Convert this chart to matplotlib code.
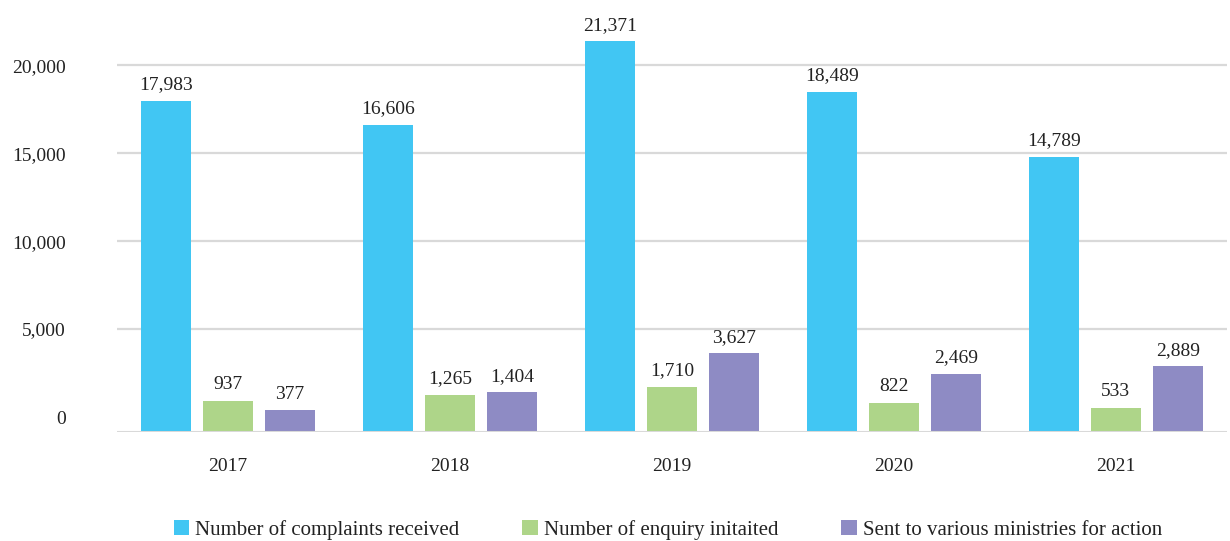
import matplotlib.pyplot as plt
import numpy as np

years = ["2017", "2018", "2019", "2020", "2021"]
complaints = [17983, 16606, 21371, 18489, 14789]
enquiry = [937, 1265, 1710, 822, 533]
ministries = [377, 1404, 3627, 2469, 2889]

series = [
    ("Number of complaints received", complaints, "#41c6f3"),
    ("Number of enquiry initaited", enquiry, "#aed589"),
    ("Sent to various ministries for action", ministries, "#8e8bc4"),
]

plt.rcParams["font.family"] = ["Liberation Serif", "DejaVu Serif"]
txt_col = "#222222"

fig = plt.figure(figsize=(12.3, 5.41), dpi=100)
ax = fig.add_axes([0.0951, 0.2015, 0.9024, 0.743])

ymin, ymax = -850, 22000
x = np.arange(len(years))
width = 0.225
offsets = [-0.28, 0.0, 0.28]

for (name, vals, col), off in zip(series, offsets):
    vals = np.array(vals)
    # bars sit on the bottom axis line like the spreadsheet chart
    ax.bar(x + off, vals - ymin, width, bottom=ymin, color=col, label=name, zorder=3)
    for xi, v in zip(x + off, vals):
        ax.text(xi, v + 420, f"{v:,}", ha="center", va="bottom",
                fontsize=14, color=txt_col, clip_on=False)

ax.set_xlim(-0.5, len(years) - 0.5)
ax.set_ylim(ymin, ymax)

for yv in [5000, 10000, 15000, 20000]:
    ax.axhline(yv, color="#d9d9d9", lw=1.6, zorder=1)
ax.axhline(ymin, color="#d9d9d9", lw=2.2, zorder=4)

ax.set_yticks([0, 5000, 10000, 15000, 20000])
ax.set_yticklabels(["0", "5,000", "10,000", "15,000", "20,000"])
ax.set_xticks(x)
ax.set_xticklabels(years)
ax.tick_params(axis="y", length=0, pad=37, labelsize=14, colors=txt_col)
ax.tick_params(axis="x", length=0, pad=19, labelsize=14, colors=txt_col)
for s in ax.spines.values():
    s.set_visible(False)

fig.legend(loc="center", bbox_to_anchor=(0.543, 0.02), ncol=3, frameon=False,
           prop={"family": ["Liberation Serif", "DejaVu Serif"], "size": 15},
           labelcolor=txt_col, handlelength=0.75, handleheight=0.75,
           handletextpad=0.3, columnspacing=3.0)

fig.savefig("out.png", dpi=100)
